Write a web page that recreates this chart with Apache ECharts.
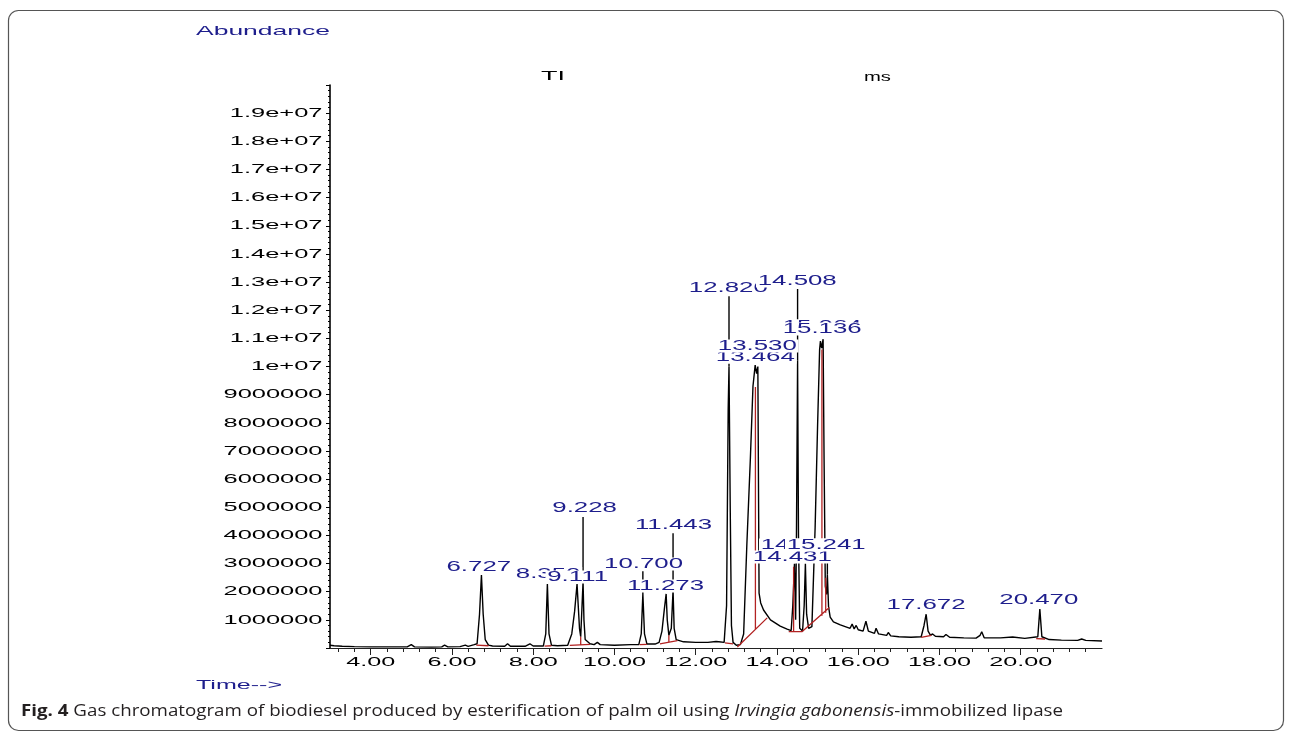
<!DOCTYPE html>
<html><head><meta charset="utf-8">
<script src="https://cdn.jsdelivr.net/npm/echarts@6/dist/echarts.min.js"></script>
<style>html,body{margin:0;padding:0;background:#fff}#c{width:1292px;height:733px}</style>
</head><body><div id="c"></div>
<script>
// ---------- data (time in min, abundance in counts) ----------
const tracePoints = [
  [3.00,1.0e5],[3.10,8e4],[3.30,6e4],[3.60,5e4],[4.00,4e4],[4.50,4e4],[4.90,4e4],[5.00,1.2e5],[5.08,4e4],
  [5.50,3e4],[5.75,4e4],[5.82,1.0e5],[5.90,4e4],[6.20,5e4],[6.33,1.0e5],[6.40,6e4],[6.55,1.2e5],[6.62,1.5e5],
  [6.68,1.2e6],[6.727,2.59e6],[6.77,1.2e6],[6.82,3e5],[6.90,1.0e5],[7.00,7e4],[7.30,6e4],[7.37,1.5e5],[7.44,6e4],
  [7.80,6e4],[7.92,1.5e5],[8.00,7e4],[8.25,7e4],[8.31,5e5],[8.35,2.27e6],[8.39,5e5],[8.45,1.0e5],[8.60,8e4],
  [8.85,1.0e5],[8.95,5e5],[9.02,1.3e6],[9.08,2.27e6],[9.14,7e5],[9.17,4e5],[9.20,1.4e6],[9.228,2.35e6],[9.25,1.0e6],
  [9.28,3e5],[9.40,1.5e5],[9.50,1.2e5],[9.58,2e5],[9.65,1.2e5],[10.00,1.0e5],[10.40,1.2e5],[10.60,1.2e5],
  [10.66,5e5],[10.70,1.92e6],[10.74,5e5],[10.80,1.4e5],[11.00,1.4e5],[11.10,2e5],[11.17,6e5],[11.23,1.4e6],
  [11.273,1.92e6],[11.30,1.0e6],[11.34,4.5e5],[11.40,7e5],[11.443,2.05e6],[11.47,7e5],[11.52,3e5],[11.70,2.2e5],
  [12.00,2e5],[12.30,2e5],[12.50,2.3e5],[12.53,3.0e5],[12.57,2.2e5],[12.70,2e5],[12.76,1.5e6],[12.80,8.5e6],
  [12.82,1.0e7],[12.85,5e6],[12.88,8e5],[12.92,2e5],[13.00,1.0e5],[13.10,1.2e5],[13.18,5e5],[13.26,3.7e6],
  [13.345,6.7e6],[13.41,9.3e6],[13.464,1.005e7],[13.50,9.75e6],[13.53,1.0e7],[13.56,1.95e6],[13.60,1.6e6],
  [13.67,1.35e6],[13.84,1.0e6],[14.08,7.8e5],[14.25,6.7e5],[14.35,6.2e5],[14.39,1.5e6],[14.431,3.0e6],
  [14.46,1.0e6],[14.48,4e6],[14.508,1.02e7],[14.53,4e6],[14.56,7e5],[14.63,6e5],[14.67,1.5e6],[14.70,3.0e6],
  [14.73,1.2e6],[14.78,7e5],[14.86,7.6e5],[14.94,4.3e6],[15.00,7.9e6],[15.05,1.06e7],[15.07,1.09e7],
  [15.10,1.065e7],[15.136,1.097e7],[15.16,6.7e6],[15.19,2.2e6],[15.22,1.9e6],[15.241,2.6e6],[15.27,1.47e6],
  [15.31,1.1e6],[15.39,9.3e5],[15.56,8.2e5],[15.80,7e5],[15.85,8.5e5],[15.90,6.8e5],[15.95,8e5],[16.00,6.5e5],
  [16.12,6e5],[16.19,9.5e5],[16.25,6e5],[16.40,5.2e5],[16.44,7e5],[16.50,5e5],[16.70,4.5e5],[16.74,5.5e5],
  [16.80,4.3e5],[17.00,4e5],[17.30,3.8e5],[17.55,4e5],[17.62,8e5],[17.672,1.2e6],[17.72,6e5],[17.78,4.5e5],
  [17.83,5e5],[17.90,4.2e5],[18.10,4e5],[18.16,4.8e5],[18.25,3.8e5],[18.60,3.6e5],[18.90,3.5e5],[19.00,4.5e5],
  [19.04,5.8e5],[19.10,3.6e5],[19.50,3.6e5],[19.80,3.9e5],[20.10,3.4e5],[20.42,4e5],[20.47,1.38e6],[20.52,4e5],
  [20.70,3e5],[21.00,2.8e5],[21.40,2.7e5],[21.50,3.2e5],[21.60,2.7e5],[22.00,2.5e5]
];
// integration baselines and drop lines (segments separated by null)
const integrationLines = [
  [6.60,1.0e5],[6.90,8e4],null,
  [8.28,7e4],[8.45,8e4],null,
  [8.90,9e4],[9.40,1.3e5],null,
  [9.17,1.1e5],[9.17,4e5],null,
  [10.62,1.2e5],[10.80,1.3e5],null,
  [11.12,1.5e5],[11.55,2.6e5],null,
  [11.34,2e5],[11.34,4.5e5],null,
  [12.72,1.8e5],[12.92,1.5e5],null,
  [13.025,3.5e4],[13.76,1.07e6],null,
  [13.47,6.6e5],[13.47,9.27e6],null,
  [14.29,5.8e5],[14.615,5.8e5],[15.29,1.44e6],null,
  [14.41,5.8e5],[14.41,2.89e6],null,
  [15.107,1.15e6],[15.107,1.06e7],null,
  [15.20,1.25e6],[15.20,2.5e6],null,
  [17.55,3.8e5],[17.80,4.5e5],null,
  [20.38,3.3e5],[20.60,3.2e5]
];
// leader lines from peak apex up to its label
const leaderLines = [
  [9.228,2.35e6],[9.228,4.65e6],null,
  [10.70,1.92e6],[10.70,2.73e6],null,
  [11.443,2.05e6],[11.443,4.08e6],null,
  [12.82,1.0e7],[12.82,1.25e7],null,
  [14.508,1.02e7],[14.508,1.275e7],null,
  [15.241,2.6e6],[15.241,3.4e6]
];
const peakLabelTexts = ['6.727','8.350','9.111','9.228','10.700','11.273','11.443','12.820','13.464','13.530',
  '14.508','15.064','15.136','14.696','14.431','15.241','17.672','20.470'];
const peakLabelAnchors = [[6.662,2.88e6],[8.369,2.65e6],[9.094,2.52e6],[9.266,4.97e6],[10.716,2.98e6],
  [11.256,2.2e6],[11.453,4.37e6],[12.804,1.279e7],[13.467,1.033e7],[13.517,1.073e7],[14.499,1.304e7],
  [15.114,1.145e7],[15.114,1.133e7],[14.573,3.66e6],[14.377,3.23e6],[15.212,3.66e6],[17.669,1.53e6],[20.445,1.71e6]];
const xTickValues = [4,6,8,10,12,14,16,18,20];
const xTickLabels = ['4.00','6.00','8.00','10.00','12.00','14.00','16.00','18.00','20.00'];
const yTickValues = [1e6,2e6,3e6,4e6,5e6,6e6,7e6,8e6,9e6,1e7,1.1e7,1.2e7,1.3e7,1.4e7,1.5e7,1.6e7,1.7e7,1.8e7,1.9e7];
const yTickLabels = ['1000000','2000000','3000000','4000000','5000000','6000000','7000000','8000000','9000000',
  '1e+07','1.1e+07','1.2e+07','1.3e+07','1.4e+07','1.5e+07','1.6e+07','1.7e+07','1.8e+07','1.9e+07'];
const captionBold = 'Fig. 4';
const captionPlain = ' Gas chromatogram of biodiesel produced by esterification of palm oil using ';
const captionItalic = 'Irvingia gabonensis';
const captionTail = '-immobilized lipase';

// ---------- config ----------
const X_MIN = 3, X_MAX = 22, Y_MIN = 0, Y_MAX = 2e7;
const minorTicks = [];
for (let k = 8; k <= 54; k++) minorTicks.push(Math.round(k * 4) / 10);
const BLUE = '#1e1e8c';
const ARIAL = '"Liberation Sans", Arial, sans-serif';
const ctx = document.createElement('canvas').getContext('2d');
function measure(font, text) { ctx.font = font; return ctx.measureText(text).width; }
const AX_FONT = '13.5px ' + ARIAL;
const Y_SCALE = 99 / measure(AX_FONT, '9000000');
const X_SCALE = 63 / measure(AX_FONT, '20.00');
const PK_FONT = '15px ' + ARIAL;
const PK_SCALE = 79 / measure(PK_FONT, '20.470');
const CAP_FAM = '"Open Sans", "Noto Sans", sans-serif';
const CAP_SIZE = 15.5;
const capW = measure('bold ' + CAP_SIZE + 'px ' + CAP_FAM, captionBold)
  + measure(CAP_SIZE + 'px ' + CAP_FAM, captionPlain + captionTail)
  + measure('italic ' + CAP_SIZE + 'px ' + CAP_FAM, captionItalic);
const CAP_SCALE = 1042 / capW;

function scaledText(x, y, text, font, fill, target, align) {
  const s = target / measure(font, text);
  return { type: 'text', x: x, y: y, scaleX: s, z: 20,
    style: { text: text, font: font, fill: fill, align: align || 'left', verticalAlign: 'middle' } };
}

const chart = echarts.init(document.getElementById('c'));
chart.setOption({
  animation: false,
  backgroundColor: '#fff',
  grid: { left: 330, right: 190, top: 85, bottom: 85 },
  xAxis: [{
    type: 'value', min: X_MIN, max: X_MAX,
    axisLine: { show: true, onZero: false, lineStyle: { color: '#222', width: 1.2 } },
    axisTick: { show: true, customValues: xTickValues, length: 7, lineStyle: { color: '#222' } },
    axisLabel: { show: false }, splitLine: { show: false }
  }, {
    type: 'value', min: X_MIN, max: X_MAX, position: 'bottom',
    axisLine: { show: false },
    axisTick: { show: true, customValues: minorTicks, length: 4, lineStyle: { color: '#222' } },
    axisLabel: { show: false }, splitLine: { show: false }
  }],
  yAxis: {
    type: 'value', min: Y_MIN, max: Y_MAX, interval: 1e6,
    axisLine: { show: true, lineStyle: { color: '#000', width: 1.6 } },
    axisTick: { show: true, length: 4, lineStyle: { color: '#000' } },
    minorTick: { show: true, splitNumber: 5, length: 2, lineStyle: { color: '#000' } },
    axisLabel: { show: false }, splitLine: { show: false }
  },
  series: [
    { type: 'line', data: tracePoints, showSymbol: false, symbol: 'none', z: 2,
      lineStyle: { color: '#000', width: 1.4 } },
    { type: 'line', data: integrationLines, showSymbol: false, symbol: 'none', connectNulls: false, z: 3,
      lineStyle: { color: '#b22222', width: 1.3 } },
    { type: 'line', data: leaderLines, showSymbol: false, symbol: 'none', connectNulls: false, z: 3,
      lineStyle: { color: '#000', width: 1.4 } },
    { type: 'custom', coordinateSystem: 'cartesian2d', clip: false, z: 10, silent: true,
      data: peakLabelAnchors, encode: { x: 0, y: 1 },
      renderItem: function (params, api) {
        const p = api.coord([api.value(0), api.value(1)]);
        return { type: 'text', x: p[0], y: p[1], scaleX: PK_SCALE, z2: params.dataIndex,
          style: { text: peakLabelTexts[params.dataIndex], font: PK_FONT, fill: BLUE, lineHeight: 13,
            align: 'center', verticalAlign: 'middle', backgroundColor: '#fff', padding: [0, 1, 0, 1] } };
      } },
    { type: 'custom', coordinateSystem: 'cartesian2d', clip: false, z: 10, silent: true,
      data: yTickValues.map(function (v) { return [X_MIN, v]; }), encode: { x: 0, y: 1 },
      renderItem: function (params, api) {
        const p = api.coord([api.value(0), api.value(1)]);
        return { type: 'text', x: p[0] - 7.5, y: p[1], scaleX: Y_SCALE,
          style: { text: yTickLabels[params.dataIndex], font: AX_FONT, fill: '#000',
            align: 'right', verticalAlign: 'middle' } };
      } },
    { type: 'custom', coordinateSystem: 'cartesian2d', clip: false, z: 10, silent: true,
      data: xTickValues.map(function (v) { return [v, Y_MIN]; }), encode: { x: 0, y: 1 },
      renderItem: function (params, api) {
        const p = api.coord([api.value(0), api.value(1)]);
        return { type: 'text', x: p[0], y: p[1] + 14, scaleX: X_SCALE,
          style: { text: xTickLabels[params.dataIndex], font: AX_FONT, fill: '#000',
            align: 'center', verticalAlign: 'middle' } };
      } }
  ],
  graphic: [
    { type: 'rect', z: 0, shape: { x: 8.5, y: 10.5, width: 1275, height: 720, r: 10 },
      style: { fill: 'none', stroke: '#555', lineWidth: 1.2 } },
    scaledText(196, 31, 'Abundance', '13px ' + ARIAL, BLUE, 134),
    scaledText(541, 76, 'TI', '13px ' + ARIAL, '#000', 24),
    scaledText(864, 77, 'ms', '13px ' + ARIAL, '#000', 27),
    scaledText(196, 685, 'Time-->', '13px ' + ARIAL, BLUE, 86),
    { type: 'text', x: 21, y: 712, scaleX: CAP_SCALE, z: 20,
      style: {
        text: '{b|' + captionBold + '}{n|' + captionPlain + '}{i|' + captionItalic + '}{n|' + captionTail + '}',
        verticalAlign: 'middle', align: 'left',
        rich: {
          b: { fontWeight: 'bold', fontSize: CAP_SIZE, fontFamily: CAP_FAM, fill: '#231f20' },
          n: { fontSize: CAP_SIZE, fontFamily: CAP_FAM, fill: '#231f20' },
          i: { fontStyle: 'italic', fontSize: CAP_SIZE, fontFamily: CAP_FAM, fill: '#231f20' }
        }
      } }
  ]
});
</script></body></html>
